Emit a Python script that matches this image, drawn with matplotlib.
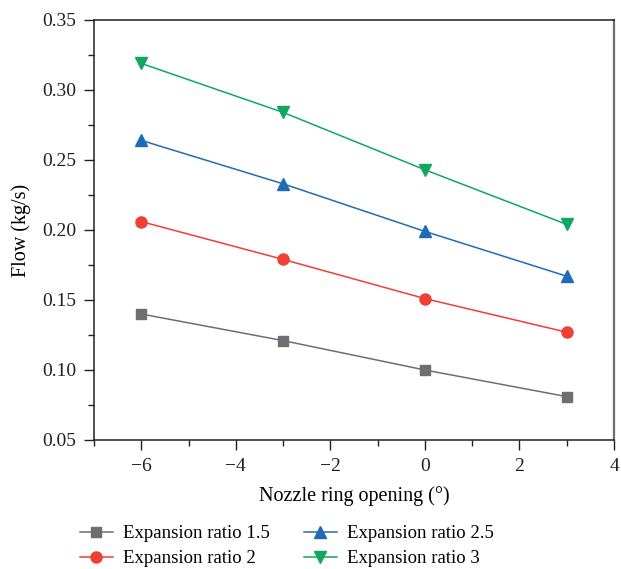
import matplotlib
matplotlib.use('Agg')
from matplotlib import pyplot as plt
from matplotlib.ticker import MultipleLocator

plt.rcParams['font.family'] = 'Liberation Serif'
plt.rcParams['font.size'] = 14

opening = [-6, -3, 0, 3]
ratio_15 = [0.140, 0.121, 0.100, 0.081]
ratio_2 = [0.206, 0.179, 0.151, 0.127]
ratio_25 = [0.264, 0.233, 0.199, 0.167]
ratio_3 = [0.319, 0.284, 0.243, 0.204]

fig = plt.figure(figsize=(6.21, 5.69), dpi=100)
ax = fig.add_axes([94 / 621, 129 / 569, 520 / 621, 420 / 569])

ax.plot(opening, ratio_15, color='#6d6e71', marker='s', markersize=7, lw=1.1, label='Expansion ratio 1.5')
ax.plot(opening, ratio_2, color='#ee4035', marker='o', markersize=8, lw=1.1, label='Expansion ratio 2')
ax.plot(opening, ratio_25, color='#1f6bb5', marker='^', markersize=9, lw=1.1, label='Expansion ratio 2.5')
ax.plot(opening, ratio_3, color='#10a763', marker='v', markersize=9, lw=1.1, label='Expansion ratio 3')

ax.set_xlim(-7, 4)
ax.set_ylim(0.05, 0.35)
ax.xaxis.set_major_locator(MultipleLocator(2))
ax.xaxis.set_minor_locator(MultipleLocator(1))
ax.yaxis.set_major_locator(MultipleLocator(0.05))
ax.yaxis.set_minor_locator(MultipleLocator(0.025))
ax.yaxis.set_major_formatter(plt.FormatStrFormatter('%.2f'))
ax.tick_params(which='major', direction='out', length=7, width=1, colors='#231f20', pad=6, labelsize=14)
ax.tick_params(which='minor', direction='out', length=4, width=1, color='#231f20')
ax.tick_params(top=False, right=False, which='both')
for s in ax.spines.values():
    s.set_color('#231f20')
    s.set_linewidth(1.1)
ax.spines['right'].set_color('#6d6e71')
ax.spines['right'].set_linewidth(1.6)

ax.set_xlabel('Nozzle ring opening (°)', labelpad=8, fontsize=14.5)
ax.set_ylabel('Flow (kg/s)', labelpad=8, fontsize=14.5)

handles, labels = ax.get_legend_handles_labels()
fig.legend(handles, labels, ncol=2, frameon=False, loc='lower center',
           bbox_to_anchor=(0.462, -0.027), columnspacing=1.8, handlelength=1.75,
           handletextpad=0.55, labelspacing=0.42, fontsize=13.5)

plt.savefig('out.png', dpi=100)
